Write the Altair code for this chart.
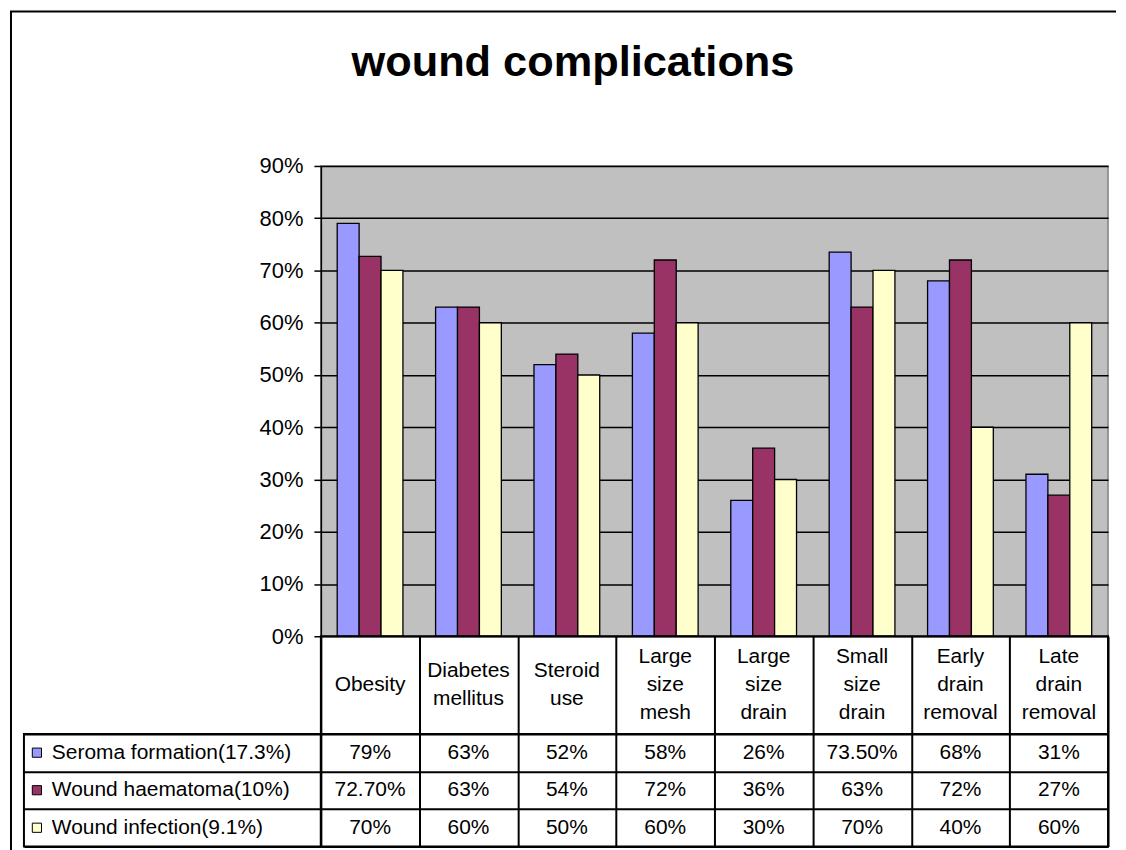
import altair as alt
import pandas as pd

# ---------------- data ----------------
categories = ["Obesity", "Diabetes mellitus", "Steroid use", "Large size mesh",
              "Large size drain", "Small size drain", "Early drain removal",
              "Late drain removal"]
category_labels = ["Obesity", "Diabetes\nmellitus", "Steroid\nuse", "Large\nsize\nmesh",
                   "Large\nsize\ndrain", "Small\nsize\ndrain", "Early\ndrain\nremoval",
                   "Late\ndrain\nremoval"]
series = ["Seroma formation(17.3%)", "Wound haematoma(10%)", "Wound infection(9.1%)"]
series_colors = ["#9999FF", "#993366", "#FFFFCC"]
seroma = [0.79, 0.63, 0.52, 0.58, 0.26, 0.735, 0.68, 0.31]
haematoma = [0.727, 0.63, 0.54, 0.72, 0.36, 0.63, 0.72, 0.27]
infection = [0.70, 0.60, 0.50, 0.60, 0.30, 0.70, 0.40, 0.60]
y_ticks = [0.0, 0.1, 0.2, 0.3, 0.4, 0.5, 0.6, 0.7, 0.8, 0.9]


def fmt(v):
    p = round(v * 100, 2)
    return f"{p:.0f}%" if abs(p - round(p)) < 1e-9 else f"{p:.2f}%"


rows = []
for s, vals in zip(series, [seroma, haematoma, infection]):
    for c, v in zip(categories, vals):
        rows.append({"category": c, "series": s, "value": v, "label": fmt(v)})
df = pd.DataFrame(rows)
label_df = pd.DataFrame({"category": categories, "label": category_labels,
                         "nlines": [lab.count("\n") + 1 for lab in category_labels]})
leg_df = pd.DataFrame({"series": series})
blank_df = pd.DataFrame({"k": [0]})

FONT = "Liberation Sans"
W_LEFT, W_PLOT = 298, 790
H_PLOT, H_LAB, H_TAB = 472, 98, 113
LINE_H = 28.5
TXT = 21

x_scale = alt.Scale(domain=categories, paddingInner=0, paddingOuter=0)
s_scale = alt.Scale(domain=series, paddingInner=0, paddingOuter=0)
color_scale = alt.Scale(domain=series, range=series_colors)
grid_axis = alt.Axis(labels=False, ticks=False, domain=False, title=None, grid=True,
                     gridColor="black", gridWidth=2, gridOpacity=1, tickBand="extent")
no_stroke = alt.ViewBackground(stroke="transparent")
box = alt.ViewBackground(stroke="black", strokeWidth=2)

# ---------------- outer frame (top-left cell) ----------------
frame_left = alt.Chart(blank_df).mark_rule(color="black", strokeWidth=2).encode(
    x=alt.value(-13), y=alt.value(-155), y2=alt.value(690))
frame_top = alt.Chart(blank_df).mark_rule(color="black", strokeWidth=2).encode(
    x=alt.value(-14), x2=alt.value(1096), y=alt.value(-155))
frame = alt.layer(frame_left, frame_top).properties(width=W_LEFT, height=H_PLOT, view=no_stroke)

# ---------------- bar chart ----------------
bars = alt.Chart(df).mark_bar(stroke="black", strokeWidth=1.3).encode(
    x=alt.X("category:N", scale=x_scale, axis=None, sort=categories),
    xOffset=alt.XOffset("series:N", scale=alt.Scale(domain=series, paddingInner=0, paddingOuter=0.745)),
    y=alt.Y("value:Q", scale=alt.Scale(domain=[0, 0.9], nice=False, zero=True),
            axis=alt.Axis(values=y_ticks, format=".0%", title=None, grid=True,
                          gridColor="black", gridWidth=1.5, gridOpacity=1,
                          tickColor="black", tickSize=7, tickWidth=1.5,
                          domainColor="black", domainWidth=1.5,
                          labelFontSize=22, labelColor="black", labelPadding=11,
                          labelFont=FONT)),
    color=alt.Color("series:N", scale=color_scale, legend=None),
).properties(
    width=W_PLOT, height=H_PLOT,
    view=alt.ViewBackground(fill="#C0C0C0", stroke="#808080", strokeWidth=1.5),
    title=alt.TitleParams("wound complications", fontSize=43.5, fontWeight="bold", font=FONT,
                          color="black", anchor="middle", frame="group", dx=-142, offset=70),
)

# ---------------- category label row ----------------
empty_mid = alt.Chart(blank_df).mark_point(opacity=0).encode(
    x=alt.value(0), y=alt.value(0)).properties(width=W_LEFT, height=H_LAB, view=no_stroke)

label_layers = []
for n in sorted(set(label_df["nlines"])):
    label_layers.append(
        alt.Chart(label_df).transform_filter(alt.datum.nlines == n).mark_text(
            lineBreak="\n", fontSize=TXT, lineHeight=LINE_H, baseline="middle",
            font=FONT, color="black", dy=-(n - 1) * LINE_H / 2).encode(
            x=alt.X("category:N", scale=x_scale, axis=grid_axis, sort=categories),
            text="label:N",
        )
    )
label_row = alt.layer(*label_layers).properties(width=W_PLOT, height=H_LAB, view=box)

# ---------------- data table ----------------
swatch = alt.Chart(leg_df).mark_square(size=85, filled=True, stroke="black", strokeWidth=1,
                                       opacity=1).encode(
    x=alt.value(13),
    y=alt.Y("series:N", scale=s_scale, axis=grid_axis, sort=series),
    color=alt.Color("series:N", scale=color_scale, legend=None),
)
names = alt.Chart(leg_df).mark_text(align="left", baseline="middle", fontSize=TXT, font=FONT,
                                    color="black").encode(
    x=alt.value(28),
    y=alt.Y("series:N", scale=s_scale, axis=grid_axis, sort=series),
    text="series:N",
)
left_col = alt.layer(swatch, names).properties(width=W_LEFT, height=H_TAB, view=box)

table = alt.Chart(df).mark_text(fontSize=TXT, baseline="middle", font=FONT, color="black").encode(
    x=alt.X("category:N", scale=x_scale, axis=grid_axis, sort=categories),
    y=alt.Y("series:N", scale=s_scale, axis=grid_axis, sort=series),
    text="label:N",
).properties(width=W_PLOT, height=H_TAB, view=box)

chart = alt.concat(frame, bars, empty_mid, label_row, left_col, table,
                   columns=2, spacing=0, bounds="flush").properties(
    padding=0, background="white"
).configure(font=FONT)

chart.save("out.html", embed_options={"renderer": "svg", "actions": False})
